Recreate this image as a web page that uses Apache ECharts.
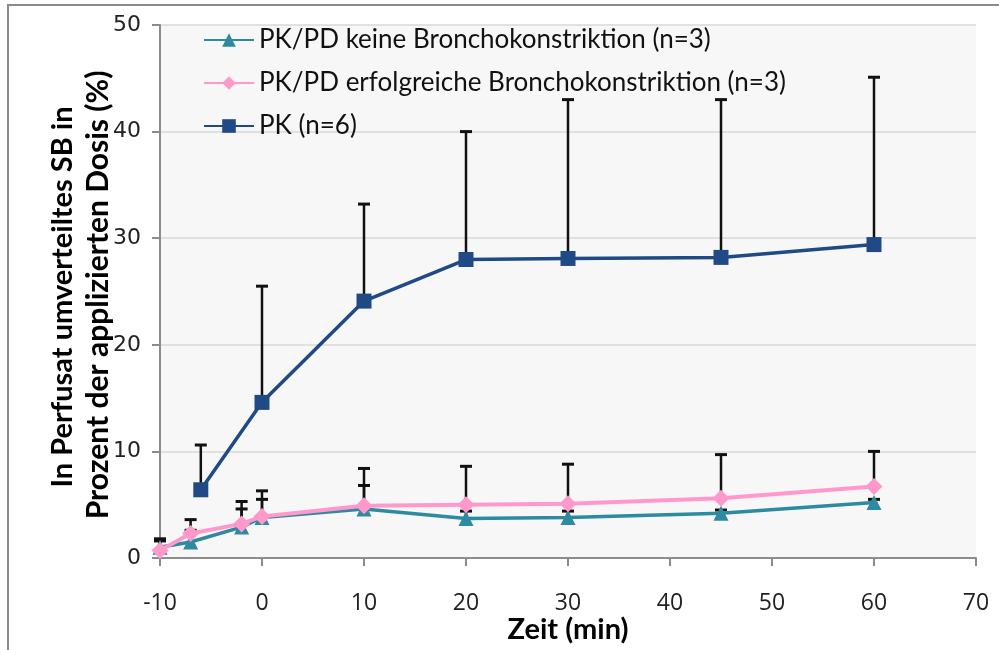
<!DOCTYPE html>
<html>
<head>
<meta charset="utf-8">
<script src="https://cdn.jsdelivr.net/npm/echarts@6/dist/echarts.min.js"></script>
<style>
html,body{margin:0;padding:0;background:#fff;}
#chart{width:999px;height:650px;}
</style>
</head>
<body>
<div id="chart"></div>
<script>
// ---- Data ----
const seriesNames = [
  'PK/PD keine Bronchokonstriktion (n=3)',
  'PK/PD erfolgreiche Bronchokonstriktion (n=3)',
  'PK (n=6)'
];
const xPKPD = [-10, -7, -2, 0, 10, 20, 30, 45, 60];
const yKeine = [1.0, 1.5, 2.9, 3.8, 4.6, 3.7, 3.8, 4.2, 5.2];
const errKeine = [0.6, 1.1, 1.7, 1.7, 2.2, 0.7, 0.6, 0.3, 0.3];
const yErfolg = [0.7, 2.3, 3.2, 3.9, 4.9, 5.0, 5.1, 5.6, 6.7];
const errErfolg = [1.1, 1.3, 2.1, 2.4, 3.5, 3.6, 3.7, 4.1, 3.3];
const xPK = [-6, 0, 10, 20, 30, 45, 60];
const yPK = [6.4, 14.6, 24.1, 28.0, 28.1, 28.2, 29.4];
const errPK = [4.2, 10.9, 9.1, 12.0, 14.9, 14.8, 15.7];
const yTitleLines = ['In Perfusat umverteiltes SB in', 'Prozent der applizierten Dosis (%)'];
const xTitle = 'Zeit (min)';

const colors = ['#2E8AA0', '#FF99CC', '#1F4A85'];

function pts(xs, ys){ return xs.map((x,i)=>[x, ys[i]]); }
function errPts(xs, ys, es){ return xs.map((x,i)=>[x, ys[i], ys[i]+es[i]]); }

function errRender(params, api){
  const b = api.coord([api.value(0), api.value(1)]);
  const t = api.coord([api.value(0), api.value(2)]);
  return {type:'group', children:[
    {type:'line', shape:{x1:b[0], y1:b[1], x2:t[0], y2:t[1]}, style:{stroke:'#111', lineWidth:2.5}},
    {type:'line', shape:{x1:t[0]-6, y1:t[1], x2:t[0]+6, y2:t[1]}, style:{stroke:'#111', lineWidth:3}}
  ]};
}

const chart = echarts.init(document.getElementById('chart'), null, {renderer:'canvas'});
const titleFont = {fontFamily:'Lato', fontWeight:'bold', fontSize:29, fill:'#000', align:'center', verticalAlign:'middle'};
const option = {
  animation:false,
  backgroundColor:'#fff',
  grid:{left:160, right:23, top:25, bottom:92, show:true, backgroundColor:'#f7f7f7', borderWidth:0},
  legend:{
    data: seriesNames,
    orient:'vertical', left:198, top:22,
    itemWidth:50, itemHeight:17, itemGap:17,
    textStyle:{fontFamily:'Lato', fontSize:26, color:'#111', lineHeight:26}
  },
  xAxis:{
    type:'value', min:-10, max:70, interval:10,
    axisLine:{show:true, onZero:false, lineStyle:{color:'#8c8c8c', width:2}},
    axisTick:{show:true, length:8, lineStyle:{color:'#8c8c8c', width:2}},
    axisLabel:{margin:34, fontFamily:"'Liberation Sans Narrow', 'Open Sans'", fontSize:23, color:'#222'},
    splitLine:{show:false}
  },
  yAxis:{
    type:'value', min:0, max:50, interval:10,
    axisLine:{show:true, onZero:false, lineStyle:{color:'#8c8c8c', width:2}},
    axisTick:{show:true, length:8, lineStyle:{color:'#8c8c8c', width:2}},
    axisLabel:{margin:19, fontFamily:'DejaVu Sans', fontSize:22, color:'#222'},
    splitLine:{show:true, lineStyle:{color:'#d9d9d9', width:1.5}}
  },
  graphic:[
    {type:'rect', shape:{x:8, y:5, width:1100, height:800}, style:{fill:null, stroke:'#8a8a8a', lineWidth:2}, z:100},
    {type:'text', x:63, y:297, rotation:Math.PI/2, style:Object.assign({text:yTitleLines[0]}, titleFont)},
    {type:'text', x:98, y:295, rotation:Math.PI/2, style:Object.assign({text:yTitleLines[1]}, titleFont, {fontSize:30})},
    {type:'text', x:568, y:630, style:Object.assign({text:xTitle}, titleFont)}
  ],
  series:[
    {type:'custom', name:'errKeine', renderItem:errRender, data:errPts(xPKPD, yKeine, errKeine), encode:{x:0, y:[1,2]}, z:1, silent:true},
    {type:'custom', name:'errErfolg', renderItem:errRender, data:errPts(xPKPD, yErfolg, errErfolg), encode:{x:0, y:[1,2]}, z:1, silent:true},
    {type:'custom', name:'errPK', renderItem:errRender, data:errPts(xPK, yPK, errPK), encode:{x:0, y:[1,2]}, z:1, silent:true},
    {type:'line', name:seriesNames[0], data:pts(xPKPD, yKeine), color:colors[0], symbol:'triangle', symbolSize:15,
      lineStyle:{width:3.5, color:colors[0]}, itemStyle:{color:colors[0]}, z:3},
    {type:'line', name:seriesNames[1], data:pts(xPKPD, yErfolg), color:colors[1], symbol:'diamond', symbolSize:17,
      lineStyle:{width:4, color:colors[1]}, itemStyle:{color:colors[1]}, z:4},
    {type:'line', name:seriesNames[2], data:pts(xPK, yPK), color:colors[2], symbol:'rect', symbolSize:15,
      lineStyle:{width:3.5, color:colors[2]}, itemStyle:{color:colors[2]}, z:5}
  ]
};
chart.setOption(option);
</script>
</body>
</html>
